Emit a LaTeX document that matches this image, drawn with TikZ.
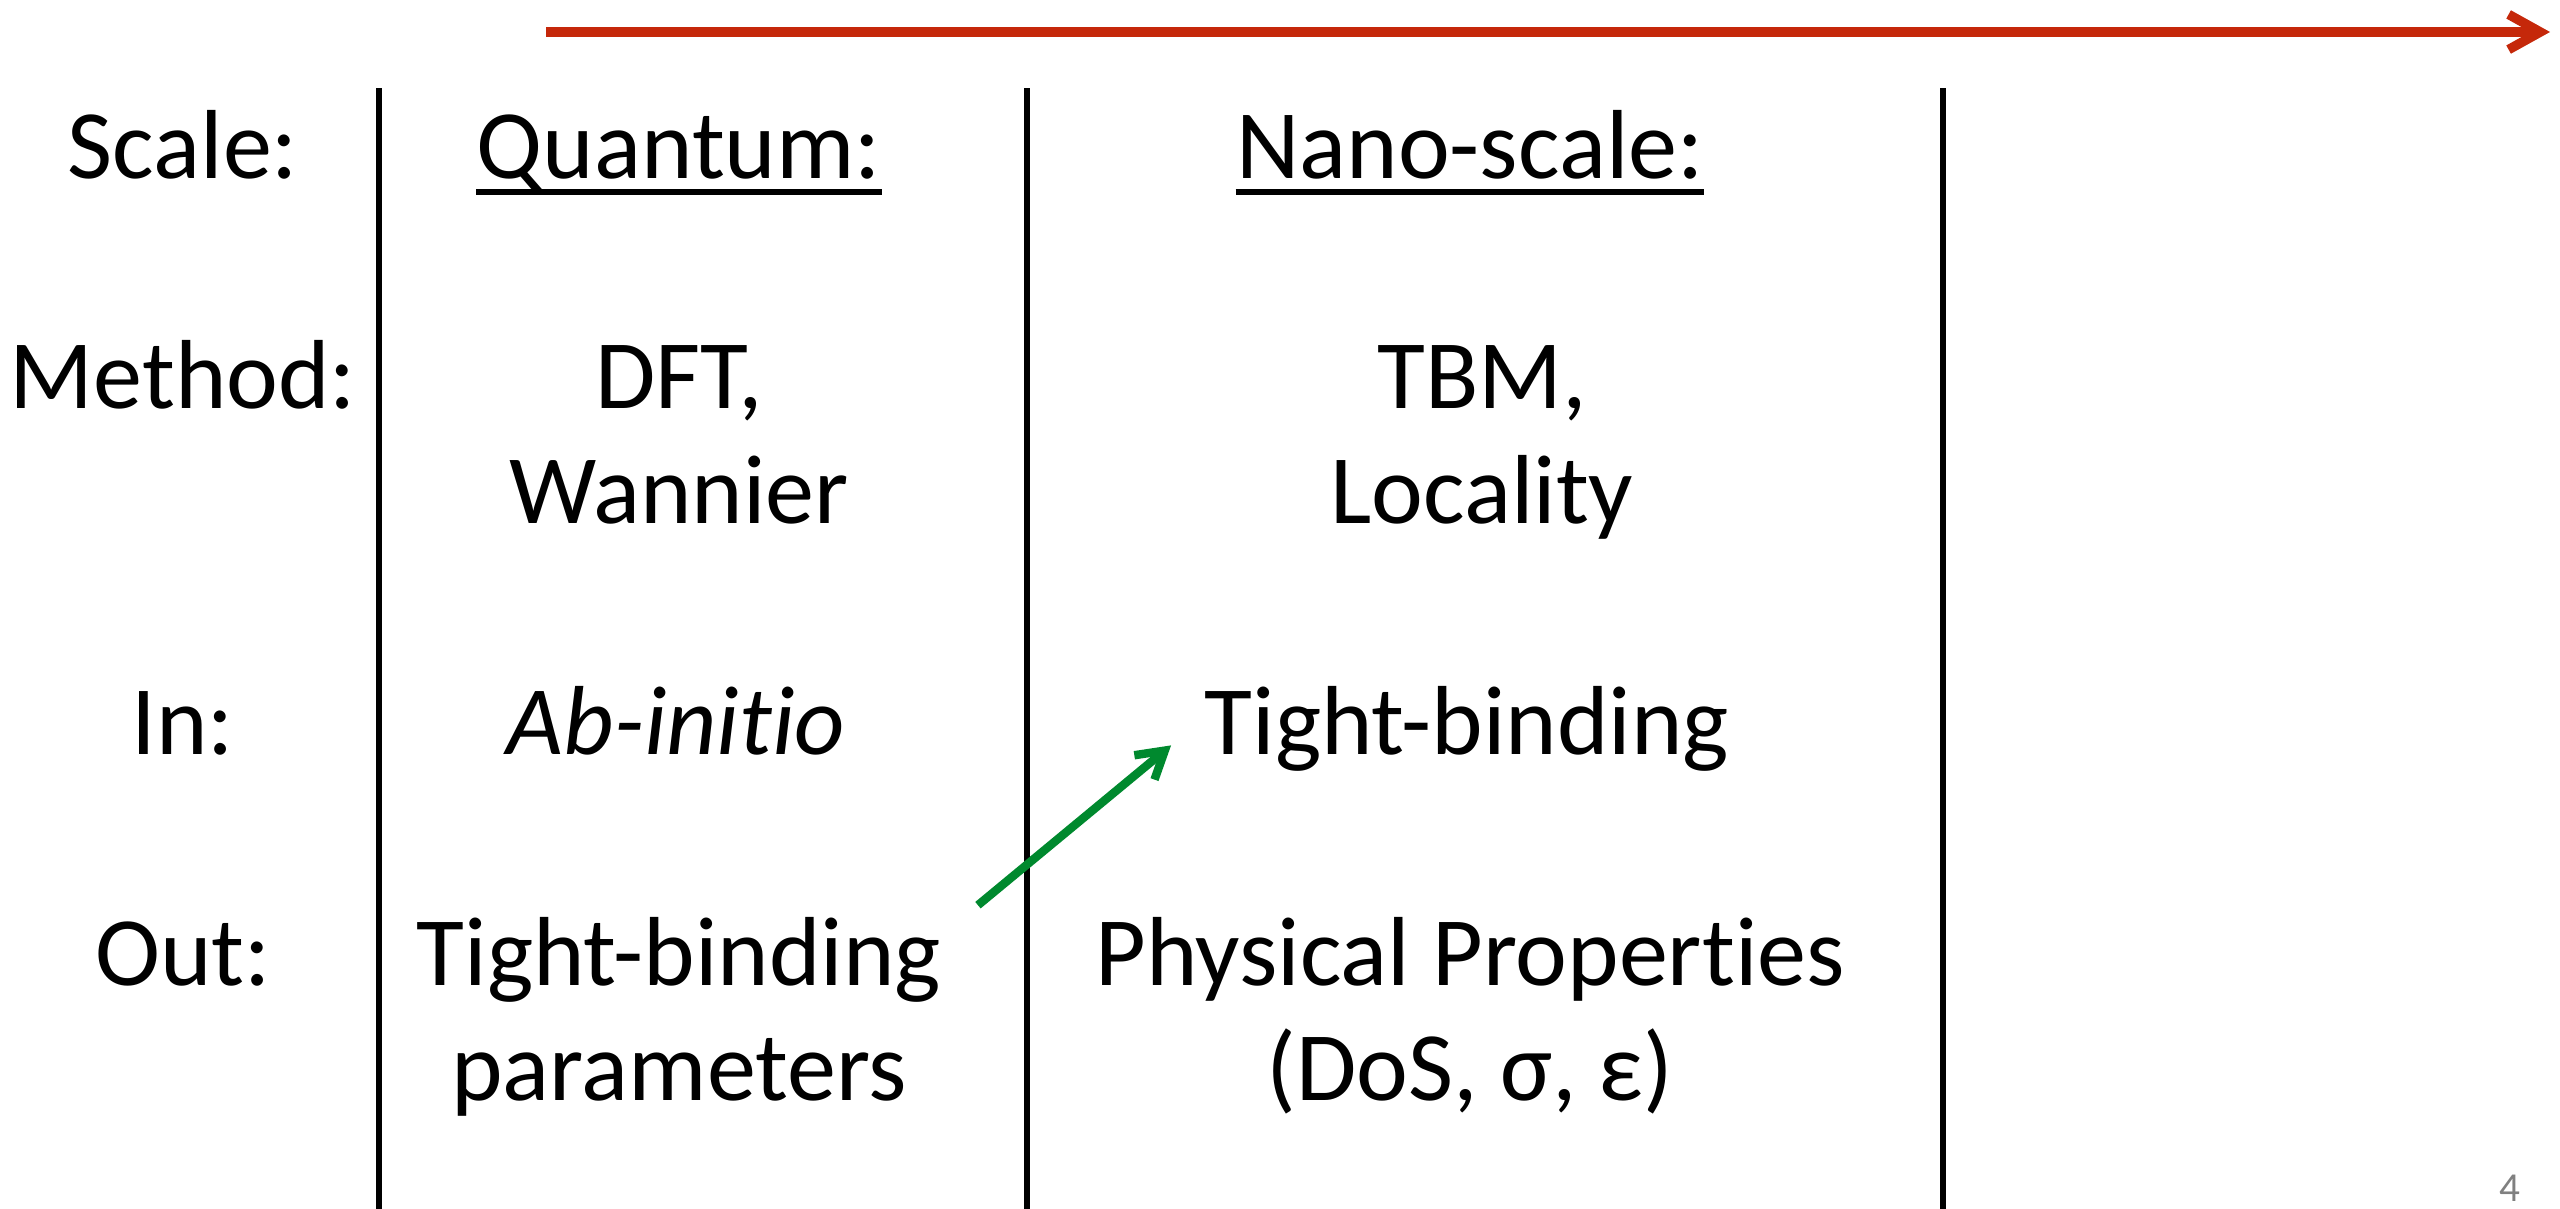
\documentclass[tikz,border=0pt]{standalone}
\usepackage{fontspec}
\setmainfont{Carlito}[Ligatures=NoCommon]
\usepackage{tikz}
\usetikzlibrary{arrows.meta, positioning, calc}
\definecolor{scalered}{RGB}{197,40,10}
\definecolor{passgreen}{RGB}{0,137,46}
\tikzset{%
	lbl/.style={anchor=base, inner sep=0mm, align=center, font=\fontsize{27.9}{32.7}\selectfont},
	uline/.style={line width=1.45pt},
	sep/.style={line width=1.9pt},
	scalearrow/.style={draw=scalered, line width=2.7pt, -{Straight Barb[length=9pt, width=10pt]}},
	pass/.style={draw=passgreen, line width=2.4pt, -{Straight Barb[length=7.5pt, width=9pt]}},
	pagenum/.style={anchor=base, inner sep=0mm, text=gray, font=\fontsize{11.7}{14}\selectfont}
}
\begin{document}
\begin{tikzpicture}[x=0.01cm, y=-0.01cm]
	\useasboundingbox (0,0) rectangle (2560,1209);
	\coordinate (sc-l) at (546,32);
	\coordinate (sc-r) at (2550,32);
	\draw [scalearrow] (sc-l) to (sc-r);
	\foreach \x in {379,1027,1943}
		\draw [sep] (\x,88) -- (\x,1209);

	\node[lbl] (row-scale) at (183,178) {Scale:};
	\node[lbl] (row-method) at (183,408) {Method:};
	\node[lbl] (row-in) at (183,754) {In:};
	\node[lbl] (row-out) at (183,985) {Out:};

	\node[lbl] (quantum) at (679,178) {Quantum:};
	\node[lbl] (dft) at (679,523) {DFT,\\Wannier};
	\node[lbl] (abinitio) at (676,754) {\itshape Ab-initio};
	\node[lbl] (tb-out) at (679,1100) {Tight-binding\\parameters};

	\node[lbl] (nano) at (1470,178) {Nano-scale:};
	\node[lbl] (tbm) at (1482,523) {TBM,\\Locality};
	\node[lbl] (tb-in) at (1467,754) {Tight-binding};
	\node[lbl] (phys) at (1470,1100) {Physical Properties\\(DoS, σ, ε)};

	\draw [uline] ([yshift=-0.14cm]quantum.base west) -- ([yshift=-0.14cm]quantum.base east);
	\draw [uline] ([yshift=-0.14cm]nano.base west) -- ([yshift=-0.14cm]nano.base east);
	\draw [pass] ([xshift=0.36cm,yshift=0.11cm]tb-out.north east) -- ([xshift=-0.33cm,yshift=-0.17cm]tb-in.west);

	\node[pagenum] (pnum) at (2510,1201) {4};
\end{tikzpicture}
\end{document}
